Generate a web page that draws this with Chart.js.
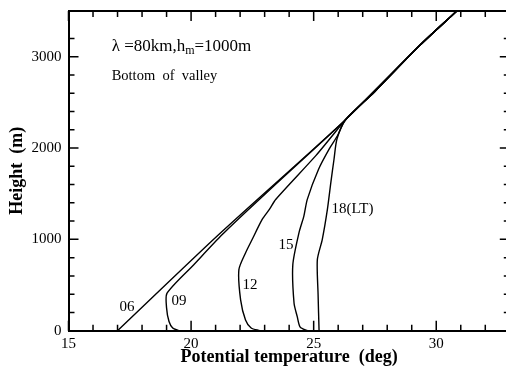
<!DOCTYPE html>
<html>
<head>
<meta charset="utf-8">
<script src="https://cdn.jsdelivr.net/npm/chart.js@4/dist/chart.umd.min.js"></script>
<style>
html,body{margin:0;padding:0;background:#fff;overflow:hidden;width:506px;height:366px;}
canvas{display:block;}
</style>
</head>
<body>
<canvas id="c" width="520" height="366"></canvas>
<script>
// ---- data (potential temperature in deg, height in m) ----
const t06 = [17.0, 21.13, 26.3, 29.33, 30.84];
const h06 = [0, 1053, 2310, 3124, 3500];

const t09 = [19.5, 19.25, 19.1, 19.0, 19.02, 20.11, 21.26, 22.43, 24.45, 26.3, 29.33, 30.84];
const h09 = [0, 30, 100, 250, 411, 723, 1050, 1350, 1850, 2310, 3124, 3500];

const t12 = [22.8, 22.45, 22.22, 22.02, 21.95, 22.22, 22.49, 22.9, 23.2, 23.45, 25.08, 25.76, 26.3, 27.5, 29.33, 30.84];
const h12 = [0, 30, 118, 338, 668, 851, 998, 1218, 1330, 1437, 1914, 2134, 2310, 2620, 3124, 3500];

const t15 = [24.75, 24.45, 24.33, 24.2, 24.15, 24.4, 24.6, 24.74, 25.2, 25.63, 25.97, 26.3, 27.5, 29.33, 30.84];
const h15 = [0, 40, 154, 300, 723, 1071, 1254, 1438, 1767, 1987, 2134, 2310, 2620, 3124, 3500];

const t18 = [25.22, 25.18, 25.15, 25.35, 25.56, 25.7, 25.83, 25.95, 26.3, 27.5, 29.33, 30.84];
const h18 = [0, 400, 778, 998, 1328, 1621, 1877, 2098, 2310, 2620, 3124, 3500];

const curveNames = ['06', '09', '12', '15', '18(LT)'];
const xTickLabels = [15, 20, 25, 30];
const yTickLabels = [0, 1000, 2000, 3000];

const FONT = "'Liberation Serif', 'Times New Roman', serif";

function pts(t, h) { return t.map((v, i) => ({x: v, y: h[i]})); }

const series = [[t06,h06],[t09,h09],[t12,h12],[t15,h15],[t18,h18]];
const datasets = series.map((s, i) => ({
  label: curveNames[i],
  data: pts(s[0], s[1]),
  showLine: true,
  borderColor: '#000',
  borderWidth: 1.4,
  pointRadius: 0,
  tension: 0.25,
  fill: false
}));

// inward ticks, frame and in-plot texts
const decor = {
  id: 'decor',
  afterDatasetsDraw(chart) {
    const ctx = chart.ctx;
    const xs = chart.scales.x, ys = chart.scales.y;
    const a = chart.chartArea;
    ctx.save();
    ctx.strokeStyle = '#000';
    ctx.lineWidth = 2;
    ctx.beginPath();
    ctx.moveTo(a.left, a.top); ctx.lineTo(a.right, a.top); ctx.lineTo(a.right, a.bottom);
    ctx.stroke();
    ctx.lineWidth = 1.5;
    ctx.beginPath();
    xs.ticks.forEach(tk => {
      const v = tk.value, p = xs.getPixelForValue(v);
      const L = (v % 5 === 0) ? 10 : 6;
      ctx.moveTo(p, a.bottom); ctx.lineTo(p, a.bottom - L);
      ctx.moveTo(p, a.top); ctx.lineTo(p, a.top + L);
    });
    ys.ticks.forEach(tk => {
      const v = tk.value;
      if (v > 3400) return;
      const p = ys.getPixelForValue(v);
      const L = (v % 1000 === 0) ? 10 : 6;
      ctx.moveTo(a.left, p); ctx.lineTo(a.left + L, p);
      ctx.moveTo(a.right, p); ctx.lineTo(a.right - L, p);
    });
    ctx.stroke();

    ctx.fillStyle = '#000';
    ctx.textBaseline = 'middle';
    ctx.font = '15px ' + FONT;
    const lab = [[17.39, 260, 'center'], [19.51, 325, 'center'], [22.40, 500, 'center'], [23.87, 938, 'center'], [25.73, 1333, 'left']];
    lab.forEach((l, i) => {
      ctx.textAlign = l[2];
      ctx.fillText(curveNames[i], xs.getPixelForValue(l[0]), ys.getPixelForValue(l[1]));
    });

    ctx.textAlign = 'left';
    let x0 = xs.getPixelForValue(16.76), y0 = ys.getPixelForValue(3110);
    ctx.font = '17px ' + FONT;
    const s1 = 'λ =80km,h';
    ctx.fillText(s1, x0, y0);
    let w = ctx.measureText(s1).width;
    ctx.font = '12px ' + FONT;
    ctx.fillText('m', x0 + w, y0 + 4);
    w += ctx.measureText('m').width;
    ctx.font = '17px ' + FONT;
    ctx.fillText('=1000m', x0 + w, y0);

    ctx.font = '14.5px ' + FONT;
    ctx.fillText('Bottom  of  valley', x0, ys.getPixelForValue(2781));
    ctx.restore();
  }
};

new Chart(document.getElementById('c'), {
  type: 'scatter',
  data: {datasets},
  options: {
    responsive: false,
    animation: false,
    devicePixelRatio: 1,
    layout: {padding: {top: 11, right: 10.2, bottom: 0, left: 0}},
    plugins: {legend: {display: false}, tooltip: {enabled: false}},
    scales: {
      x: {
        type: 'linear', min: 15, max: 33,
        grid: {display: false, drawTicks: false},
        border: {display: true, color: '#000', width: 2},
        ticks: {
          stepSize: 1, autoSkip: false, maxRotation: 0, padding: 4,
          color: '#000', font: {family: FONT, size: 15},
          callback: v => xTickLabels.includes(v) ? String(v) : ''
        },
        title: {display: true, text: 'Potential temperature  (deg)', color: '#000',
          font: {family: FONT, size: 18, weight: 'bold', lineHeight: 1}, padding: {top: 0, bottom: 0}},
        afterFit: s => { s.height = 35.3; s.paddingLeft = 0; s.paddingRight = 0; }
      },
      y: {
        type: 'linear', min: 0, max: 3500,
        grid: {display: false, drawTicks: false},
        border: {display: true, color: '#000', width: 2},
        ticks: {
          stepSize: 200, autoSkip: false, padding: 7, color: '#000',
          font: {family: FONT, size: 15},
          callback: v => yTickLabels.includes(v) ? String(v) : ''
        },
        title: {display: true, text: 'Height  (m)', color: '#000',
          font: {family: FONT, size: 18, weight: 'bold', lineHeight: 1}, padding: {top: 8, bottom: 0}},
        afterFit: s => { s.width = 68.5; s.paddingTop = 0; s.paddingBottom = 0; }
      }
    }
  },
  plugins: [decor]
});
</script>
</body>
</html>
